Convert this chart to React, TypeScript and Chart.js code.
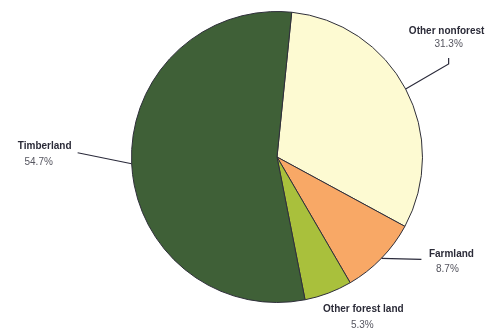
import React, { useEffect, useRef } from "react";
import { Chart, registerables } from "chart.js";

Chart.register(...registerables);

const categories = ["Other nonforest", "Farmland", "Other forest land", "Timberland"];
const values = [31.3, 8.7, 5.3, 54.7];
const percentLabels = ["31.3%", "8.7%", "5.3%", "54.7%"];
const colors = ["#fdfad2", "#f8a866", "#a9c03c", "#3f6037"];

// label layout relative to each slice's outer edge midpoint: [nameDx, nameDy, pctDx, pctDy]
const labelOffsets = [
  [41, -58, 43, -45],
  [70, -4, 66, 11],
  [35, 16, 34, 32],
  [-87, -18, -93, -2],
];
// leader line vertices relative to the edge midpoint
const leaderLines: number[][][] = [
  [[0, 0], [43, -25], [43, -31]],
  [[0, 0], [40, 1]],
  [],
  [[0, 0], [-54, -11]],
];

const labelPlugin = {
  id: "pieLabels",
  afterDraw(chart: any) {
    const ctx = chart.ctx;
    const meta = chart.getDatasetMeta(0);
    meta.data.forEach((arc: any, i: number) => {
      const p = arc.getProps(["x", "y", "startAngle", "endAngle", "outerRadius"], true);
      const mid = (p.startAngle + p.endAngle) / 2;
      const ex = p.x + p.outerRadius * Math.cos(mid);
      const ey = p.y + p.outerRadius * Math.sin(mid);
      const pts = leaderLines[i];
      ctx.save();
      if (pts.length) {
        ctx.strokeStyle = "#2a2a3a";
        ctx.lineWidth = 1.2;
        ctx.beginPath();
        pts.forEach((q, k) => {
          if (k === 0) ctx.moveTo(ex + q[0], ey + q[1]);
          else ctx.lineTo(ex + q[0], ey + q[1]);
        });
        ctx.stroke();
      }
      const o = labelOffsets[i];
      ctx.textAlign = "center";
      ctx.textBaseline = "middle";
      ctx.fillStyle = "#2b2b38";
      ctx.font = "bold 10px 'Liberation Sans', Arial, sans-serif";
      ctx.fillText(categories[i], ex + o[0], ey + o[1]);
      ctx.fillStyle = "#55555f";
      ctx.font = "10px 'Liberation Sans', Arial, sans-serif";
      ctx.fillText(percentLabels[i], ex + o[2], ey + o[3]);
      ctx.restore();
    });
  },
};

export default function App() {
  const ref = useRef<HTMLCanvasElement>(null);
  useEffect(() => {
    document.body.style.margin = "0";
    const chart = new Chart(ref.current!, {
      type: "pie",
      data: {
        labels: categories,
        datasets: [
          {
            data: values,
            backgroundColor: colors,
            borderColor: "#2f2f3a",
            borderWidth: 1,
          },
        ],
      },
      options: {
        responsive: false,
        animation: false,
        rotation: 5.8,
        layout: { padding: { left: 131, right: 73, top: 11, bottom: 29 } },
        plugins: { legend: { display: false }, tooltip: { enabled: false } },
      },
      plugins: [labelPlugin],
    });
    return () => chart.destroy();
  }, []);
  return (
    <div style={{ width: 496, height: 332, background: "#fff" }}>
      <canvas ref={ref} width={496} height={332} />
    </div>
  );
}
